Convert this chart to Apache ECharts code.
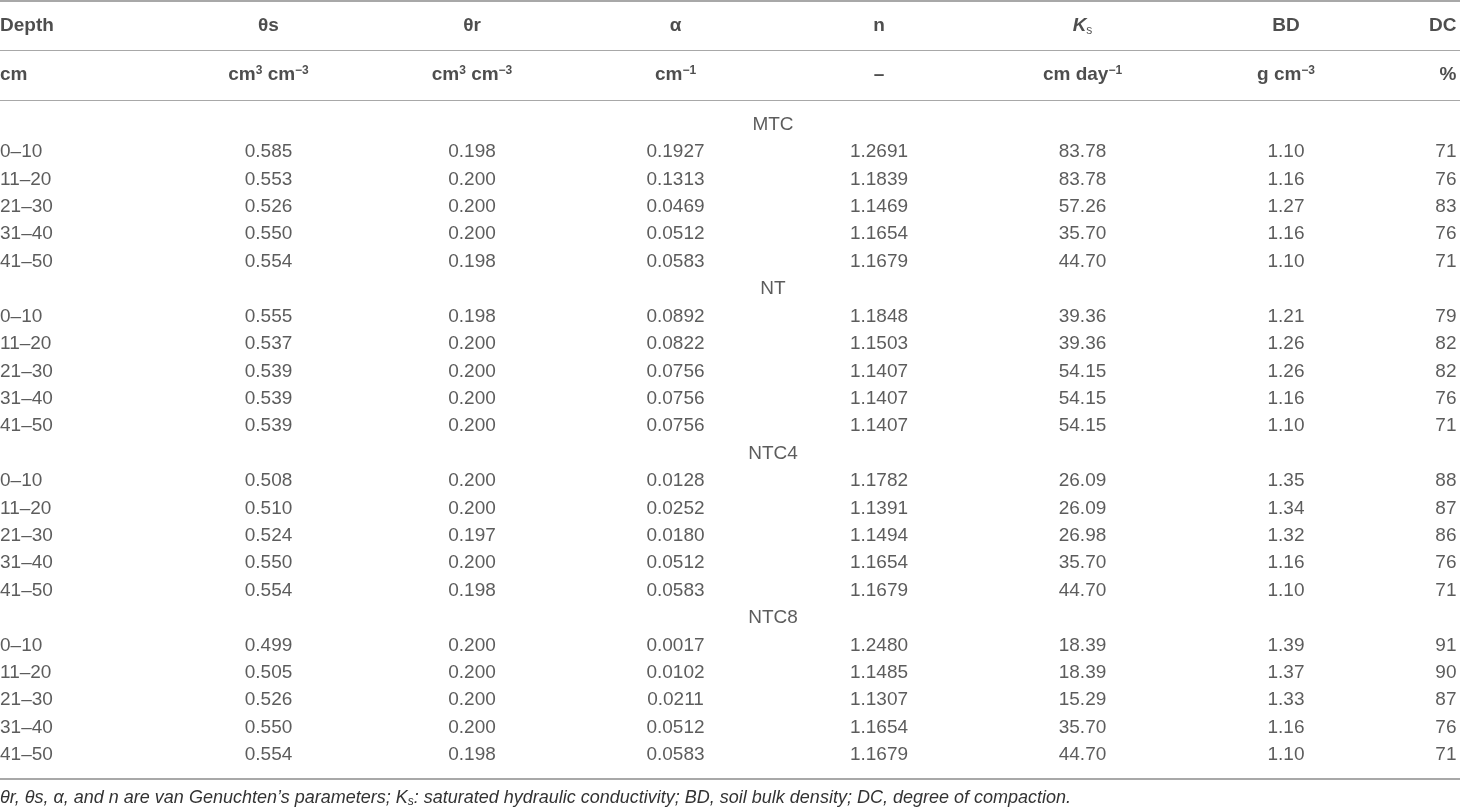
<!DOCTYPE html>
<html>
<head>
<meta charset="utf-8">
<title>van Genuchten parameters table</title>
<script src="https://cdn.jsdelivr.net/npm/echarts/dist/echarts.min.js"></script>
<style>
  html, body { margin: 0; padding: 0; background: #fff; }
  #main { width: 1460px; height: 811px; }
</style>
</head>
<body>
<div id="main"></div>
<script>
// table content
var headTop = ['Depth', 'θs', 'θr', 'α', 'n', '{ki|K}{sub|s}', 'BD', 'DC'];
var headUnits = ['cm', 'cm{sup|3} cm{sup|−3}', 'cm{sup|3} cm{sup|−3}', 'cm{sup|−1}', '–', 'cm day{sup|−1}', 'g cm{sup|−3}', '%'];
var groups = ['MTC', 'NT', 'NTC4', 'NTC8'];
var depths = ['0–10', '11–20', '21–30', '31–40', '41–50'];
var decimals = [0, 3, 3, 4, 4, 2, 2, 0];

var thetaS = [
    [0.585, 0.553, 0.526, 0.550, 0.554],
    [0.555, 0.537, 0.539, 0.539, 0.539],
    [0.508, 0.510, 0.524, 0.550, 0.554],
    [0.499, 0.505, 0.526, 0.550, 0.554]
];
var thetaR = [
    [0.198, 0.200, 0.200, 0.200, 0.198],
    [0.198, 0.200, 0.200, 0.200, 0.200],
    [0.200, 0.200, 0.197, 0.200, 0.198],
    [0.200, 0.200, 0.200, 0.200, 0.198]
];
var alpha = [
    [0.1927, 0.1313, 0.0469, 0.0512, 0.0583],
    [0.0892, 0.0822, 0.0756, 0.0756, 0.0756],
    [0.0128, 0.0252, 0.0180, 0.0512, 0.0583],
    [0.0017, 0.0102, 0.0211, 0.0512, 0.0583]
];
var nParam = [
    [1.2691, 1.1839, 1.1469, 1.1654, 1.1679],
    [1.1848, 1.1503, 1.1407, 1.1407, 1.1407],
    [1.1782, 1.1391, 1.1494, 1.1654, 1.1679],
    [1.2480, 1.1485, 1.1307, 1.1654, 1.1679]
];
var ks = [
    [83.78, 83.78, 57.26, 35.70, 44.70],
    [39.36, 39.36, 54.15, 54.15, 54.15],
    [26.09, 26.09, 26.98, 35.70, 44.70],
    [18.39, 18.39, 15.29, 35.70, 44.70]
];
var bd = [
    [1.10, 1.16, 1.27, 1.16, 1.10],
    [1.21, 1.26, 1.26, 1.16, 1.10],
    [1.35, 1.34, 1.32, 1.16, 1.10],
    [1.39, 1.37, 1.33, 1.16, 1.10]
];
var dc = [
    [71, 76, 83, 76, 71],
    [79, 82, 82, 76, 71],
    [88, 87, 86, 76, 71],
    [91, 90, 87, 76, 71]
];
var footnote = '{i|θr, θs, α, and n are van Genuchten\u2019s parameters; K}{isub|s}{i|: saturated hydraulic conductivity; BD, soil bulk density; DC, degree of compaction.}';

var valueCols = [thetaS, thetaR, alpha, nParam, ks, bd, dc];

var FONT = '"Liberation Sans", Arial, Helvetica, sans-serif';
var LINE = '#a8a8a8';

// columns sit on a value axis by index; the window is chosen so the centred
// columns fall where the printed table has them
var colAxis = {min: -0.3194, max: 6.855};

// first column left aligned, last right aligned, the rest centred
var colLabel = function (ci) {
    if (ci == 0) return {align: 'left', offset: [-65, 0]};
    if (ci == 7) return {align: 'right', offset: [-33, 0]};
    return {align: 'center', offset: [0, 0]};
};

// header cells
var headData = [];
[headTop, headUnits].forEach(function (row, ri) {
    row.forEach(function (txt, ci) {
        var l = colLabel(ci);
        headData.push({value: [ci, ri, txt], label: {align: l.align, offset: l.offset}});
    });
});

// body cells
var rowIds = [];
var bodyData = [];
groups.forEach(function (g, gi) {
    rowIds.push('g' + gi);
    bodyData.push({value: [4, rowIds.length - 1, g], label: {align: 'center', offset: [-106, 0]}});
    depths.forEach(function (d, di) {
        rowIds.push('r' + gi + '_' + di);
        var r = rowIds.length - 1;
        var l = colLabel(0);
        bodyData.push({value: [0, r, d], label: {align: l.align, offset: l.offset}});
        for (var c = 0; c < valueCols.length; c++) {
            var ci = c + 1;
            l = colLabel(ci);
            bodyData.push({
                value: [ci, r, valueCols[c][gi][di].toFixed(decimals[ci])],
                label: {align: l.align, offset: l.offset}
            });
        }
    });
});

var richHead = {
    ki: {fontFamily: FONT, fontSize: 19, fontWeight: 'bold', fontStyle: 'italic', color: '#222', lineHeight: 22},
    sub: {fontFamily: FONT, fontSize: 12, fontWeight: 'normal', color: '#222', verticalAlign: 'bottom', lineHeight: 22},
    sup: {fontFamily: FONT, fontSize: 12, fontWeight: 'bold', color: '#222', verticalAlign: 'top', lineHeight: 22}
};

var hiddenX = function (gridIndex, position, offset) {
    return {
        gridIndex: gridIndex, type: 'value', min: colAxis.min, max: colAxis.max,
        position: position, offset: offset,
        axisLine: {show: true, onZero: false, lineStyle: {color: LINE, width: 2}},
        axisTick: {show: false}, axisLabel: {show: false}, splitLine: {show: false}
    };
};

var chart = echarts.init(document.getElementById('main'));

var option = {
    animation: false,
    backgroundColor: '#fff',
    title: {
        text: footnote,
        left: 0,
        top: 787,
        padding: 0,
        textStyle: {
            fontWeight: 'normal',
            rich: {
                i: {fontFamily: FONT, fontSize: 18, fontStyle: 'italic', fontWeight: 'normal', color: '#333', lineHeight: 21},
                isub: {fontFamily: FONT, fontSize: 12, fontStyle: 'italic', fontWeight: 'normal', color: '#333', verticalAlign: 'bottom', lineHeight: 21}
            }
        }
    },
    grid: [
        {left: 0, right: 0, top: 1, height: 99},
        {left: 0, right: 0, top: 110.9, bottom: 42.3}
    ],
    xAxis: [
        hiddenX(0, 'top', 0),
        hiddenX(1, 'bottom', 10)
    ],
    yAxis: [
        {
            gridIndex: 0, type: 'category', data: ['head', 'units'], inverse: true,
            axisLine: {show: false}, axisTick: {show: false}, axisLabel: {show: false},
            splitLine: {show: true, lineStyle: {color: LINE, width: 1}}
        },
        {
            gridIndex: 1, type: 'category', data: rowIds, inverse: true,
            axisLine: {show: false}, axisTick: {show: false}, axisLabel: {show: false},
            splitLine: {show: false}
        }
    ],
    series: [
        {
            type: 'scatter', xAxisIndex: 0, yAxisIndex: 0,
            symbolSize: 1, itemStyle: {color: 'rgba(0,0,0,0)'},
            silent: true, clip: false,
            label: {
                show: true, position: 'inside', verticalAlign: 'middle',
                fontFamily: FONT, fontSize: 19, fontWeight: 'bold', color: '#222',
                formatter: function (p) { return p.value[2]; },
                rich: richHead
            },
            data: headData
        },
        {
            type: 'scatter', xAxisIndex: 1, yAxisIndex: 1,
            symbolSize: 1, itemStyle: {color: 'rgba(0,0,0,0)'},
            silent: true, clip: false,
            label: {
                show: true, position: 'inside', verticalAlign: 'middle',
                fontFamily: FONT, fontSize: 19, color: '#333',
                formatter: function (p) { return p.value[2]; }
            },
            data: bodyData
        }
    ]
};

chart.setOption(option);
</script>
</body>
</html>
